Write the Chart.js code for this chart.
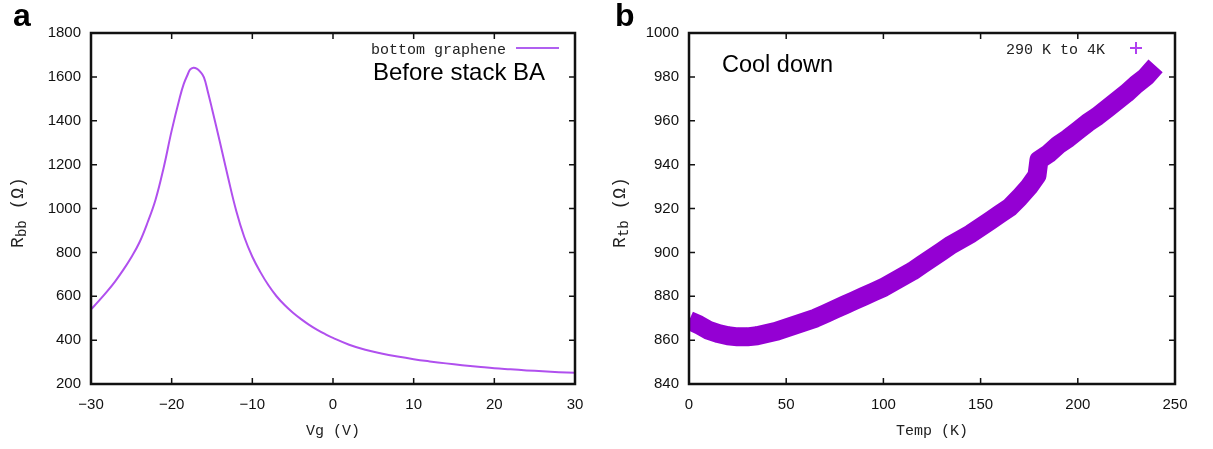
<!DOCTYPE html>
<html>
<head>
<meta charset="utf-8">
<script src="https://cdn.jsdelivr.net/npm/chart.js@4.4.1/dist/chart.umd.min.js"></script>
<style>
    html, body { margin: 0; padding: 0; background: #fff; }
    .panel { position: absolute; top: 0; height: 449px; }
</style>
</head>
<body>
<div class="panel" style="left:0;width:600px"><canvas id="chart-a" width="600" height="449"></canvas></div>
<div class="panel" style="left:600px;width:613px"><canvas id="chart-b" width="613" height="449"></canvas></div>
<script>
// panel a: gate sweep of bottom graphene
const vg = [-30, -29, -28, -27, -26, -25, -24, -23, -22, -21, -20, -19, -18.5, -18, -17.7, -17.3, -16.9, -16.5, -16, -15.5, -15, -14, -13, -12, -11, -10, -9, -8, -7, -6, -5, -4, -3, -2, -1, 0, 2, 4, 6, 8, 10, 12, 14, 16, 18, 20, 22, 24, 26, 28, 30];
const rbb = [540, 580, 622, 668, 720, 778, 845, 935, 1040, 1185, 1355, 1505, 1568, 1612, 1634, 1642, 1638, 1625, 1598, 1530, 1455, 1300, 1140, 990, 870, 780, 710, 650, 600, 560, 526, 497, 471, 448, 428, 410, 379, 356, 339, 325, 313, 303, 294, 286, 279, 272, 267, 262, 258, 254, 251];
const xTicksA = [-30, -20, -10, 0, 10, 20, 30];
const yTicksA = [200, 400, 600, 800, 1000, 1200, 1400, 1600, 1800];

// panel b: cool down 290 K to 4 K
const temps = [0, 5, 10, 15, 20, 25, 30, 35, 40, 45, 50, 55, 60, 65, 70, 75, 80, 85, 90, 95, 100, 105, 110, 115, 120, 125, 130, 135, 140, 145, 150, 155, 160, 165, 170, 175, 179, 180, 185, 190, 195, 200, 205, 210, 215, 220, 225, 230, 235, 240];
const rtb = [869, 867, 864.5, 863, 862, 861.5, 861.5, 862, 863, 864, 865.5, 867, 868.5, 870, 872, 874, 876, 878, 880, 882, 884, 886.5, 889, 891.5, 894.5, 897.5, 900.5, 903.5, 906, 908.5, 911.5, 914.5, 917.5, 920.5, 925, 930, 935, 942, 945, 949, 952, 955.5, 959, 962, 965.5, 969, 972.5, 976.5, 980, 985];
const xTicksB = [0, 50, 100, 150, 200, 250];
const yTicksB = [840, 860, 880, 900, 920, 940, 960, 980, 1000];

const tickFont = { family: "'Liberation Sans', Arial, sans-serif", size: 15 };
const monoFont = "'Liberation Mono', 'DejaVu Sans Mono', monospace";

// gnuplot style frame with inward ticks on all four sides
const frameTicks = {
    id: "frameTicks",
    afterDraw(chart) {
        const { ctx, chartArea: a, scales } = chart;
        const len = 6;
        ctx.save();
        ctx.strokeStyle = "#111";
        ctx.lineWidth = 1.5;
        scales.x.ticks.forEach((t) => {
            const px = scales.x.getPixelForValue(t.value);
            if (px <= a.left + 1 || px >= a.right - 1) return;
            ctx.beginPath();
            ctx.moveTo(px, a.bottom); ctx.lineTo(px, a.bottom - len);
            ctx.moveTo(px, a.top); ctx.lineTo(px, a.top + len);
            ctx.stroke();
        });
        scales.y.ticks.forEach((t) => {
            const py = scales.y.getPixelForValue(t.value);
            if (py <= a.top + 1 || py >= a.bottom - 1) return;
            ctx.beginPath();
            ctx.moveTo(a.left, py); ctx.lineTo(a.left + len, py);
            ctx.moveTo(a.right, py); ctx.lineTo(a.right - len, py);
            ctx.stroke();
        });
        ctx.lineWidth = 2.5;
        ctx.strokeRect(a.left, a.top, a.right - a.left, a.bottom - a.top);
        ctx.restore();
    },
};

// text runs with optional subscripts, centred on (x, y)
function drawRuns(ctx, runs, x, y, angle, size) {
    const base = size + "px " + monoFont;
    const small = Math.round(size * 0.75) + "px " + monoFont;
    let total = 0;
    runs.forEach((r) => {
        ctx.font = r.sub ? small : base;
        total += ctx.measureText(r.t).width;
    });
    ctx.save();
    ctx.translate(x, y);
    ctx.rotate(angle);
    ctx.fillStyle = "#222";
    ctx.textBaseline = "middle";
    let cx = -total / 2;
    runs.forEach((r) => {
        ctx.font = r.sub ? small : base;
        ctx.fillText(r.t, cx, r.sub ? 4 : 0);
        cx += ctx.measureText(r.t).width;
    });
    ctx.restore();
}

const labels = {
    id: "labels",
    afterDraw(chart, args, o) {
        const { ctx, chartArea: a } = chart;
        ctx.save();
        ctx.fillStyle = "#000";
        ctx.font = "bold 32px 'Liberation Sans', Arial, sans-serif";
        ctx.textBaseline = "alphabetic";
        ctx.fillText(o.panel, o.panelX, 26);

        ctx.font = o.noteSize + "px 'Liberation Sans', Arial, sans-serif";
        ctx.fillText(o.note, o.noteX, o.noteY);

        // key
        ctx.fillStyle = "#222";
        ctx.font = "15px " + monoFont;
        ctx.textAlign = "right";
        ctx.fillText(o.key, o.keyX, 54);
        ctx.strokeStyle = o.keyColor;
        ctx.lineWidth = 2;
        ctx.beginPath();
        if (o.keyMark === "line") {
            ctx.moveTo(o.keyX + 10, 48); ctx.lineTo(o.keyX + 53, 48);
        } else {
            const cx = o.keyX + 31;
            ctx.moveTo(cx - 6, 48); ctx.lineTo(cx + 6, 48);
            ctx.moveTo(cx, 42); ctx.lineTo(cx, 54);
        }
        ctx.stroke();
        ctx.restore();

        drawRuns(ctx, o.xTitle, (a.left + a.right) / 2, 431, 0, 15);
        drawRuns(ctx, o.yTitle, o.yTitleX, (a.top + a.bottom) / 2 + 4, -Math.PI / 2, 18);
    },
};

function axes(xMin, xMax, xTicks, yMin, yMax, yTicks, yWidth) {
    return {
        x: {
            type: "linear",
            min: xMin,
            max: xMax,
            afterBuildTicks: (s) => { s.ticks = xTicks.map((v) => ({ value: v })); },
            afterFit: (s) => { s.height = 65; },
            grid: { display: false, drawTicks: false },
            border: { display: false },
            ticks: {
                padding: 12,
                color: "#111",
                font: tickFont,
                maxRotation: 0,
                callback: (v) => String(v).replace("-", "\u2212"),
            },
        },
        y: {
            type: "linear",
            min: yMin,
            max: yMax,
            afterBuildTicks: (s) => { s.ticks = yTicks.map((v) => ({ value: v })); },
            afterFit: (s) => { s.width = yWidth; },
            grid: { display: false, drawTicks: false },
            border: { display: false },
            ticks: { padding: 10, color: "#111", font: tickFont, callback: (v) => String(v) },
        },
    };
}

const common = {
    responsive: false,
    animation: false,
    events: [],
    plugins: { legend: { display: false }, tooltip: { enabled: false } },
};

new Chart(document.getElementById("chart-a").getContext("2d"), {
    type: "line",
    data: {
        datasets: [
            {
                label: "bottom graphene",
                data: vg.map((v, i) => ({ x: v, y: rbb[i] })),
                borderColor: "#b050ee",
                borderWidth: 2,
                pointRadius: 0,
                tension: 0.4,
            },
        ],
    },
    options: {
        ...common,
        layout: { padding: { left: 0, right: 25, top: 33, bottom: 0 } },
        scales: axes(-30, 30, xTicksA, 200, 1800, yTicksA, 91),
        plugins: {
            ...common.plugins,
            labels: {
                panel: "a", panelX: 13,
                note: "Before stack BA", noteX: 373, noteY: 80, noteSize: 24,
                key: "bottom graphene", keyX: 506, keyColor: "#b060f0", keyMark: "line",
                xTitle: [{ t: "Vg (V)" }],
                yTitle: [{ t: "R" }, { t: "bb", sub: true }, { t: " (\u03A9)" }],
                yTitleX: 18,
            },
        },
    },
    plugins: [frameTicks, labels],
});

new Chart(document.getElementById("chart-b").getContext("2d"), {
    type: "line",
    data: {
        datasets: [
            {
                label: "290 K to 4K",
                data: temps.map((t, i) => ({ x: t, y: rtb[i] })),
                borderColor: "#9400d3",
                borderWidth: 19,
                borderJoinStyle: "round",
                pointRadius: 0,
                tension: 0,
            },
        ],
    },
    options: {
        ...common,
        layout: { padding: { left: 0, right: 38, top: 33, bottom: 0 } },
        scales: axes(0, 250, xTicksB, 840, 1000, yTicksB, 89),
        plugins: {
            ...common.plugins,
            labels: {
                panel: "b", panelX: 15,
                note: "Cool down", noteX: 122, noteY: 72, noteSize: 23.5,
                key: "290 K to 4K", keyX: 505, keyColor: "#b040f0", keyMark: "plus",
                xTitle: [{ t: "Temp (K)" }],
                yTitle: [{ t: "R" }, { t: "tb", sub: true }, { t: " (\u03A9)" }],
                yTitleX: 20,
            },
        },
    },
    plugins: [frameTicks, labels],
});
</script>
</body>
</html>
